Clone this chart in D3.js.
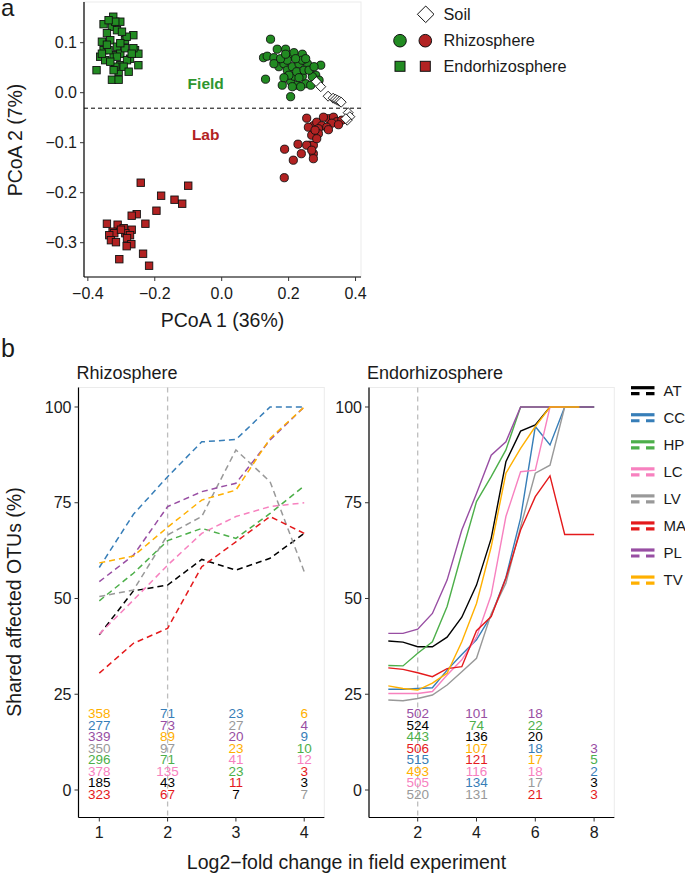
<!DOCTYPE html>
<html><head><meta charset="utf-8">
<script src="https://cdn.jsdelivr.net/npm/d3@7"></script>
<style>body{margin:0;background:#fff}svg{display:block;font-family:"Liberation Sans",Arial,sans-serif}</style>
</head><body><svg id="c" width="685" height="873"></svg>
<script>
// ---------- Panel a data (PCoA) ----------
const fieldEndo = [[-0.374,0.045],[-0.324,0.152],[-0.353,0.137],[-0.328,0.132],[-0.303,0.142],[-0.313,0.125],[-0.343,0.119],[-0.358,0.102],[-0.333,0.105],[-0.289,0.105],[-0.264,0.115],[-0.313,0.092],[-0.353,0.085],[-0.363,0.072],[-0.348,0.065],[-0.323,0.075],[-0.303,0.078],[-0.274,0.068],[-0.259,0.085],[-0.249,0.078],[-0.303,0.055],[-0.283,0.065],[-0.308,0.042],[-0.328,0.026],[-0.308,0.026],[-0.249,0.055],[-0.293,0.052],[-0.338,0.085],[-0.318,0.052],[-0.289,0.089],[-0.264,0.089],[-0.284,0.112],[-0.298,0.122],[-0.343,0.096],[-0.278,0.042],[-0.323,0.045],[-0.358,0.078],[-0.313,0.072],[-0.269,0.078],[-0.333,0.062],[-0.303,0.099],[-0.318,0.142],[-0.338,0.145]];
const labEndo = [[-0.242,-0.180],[-0.100,-0.186],[-0.181,-0.206],[-0.141,-0.214],[-0.118,-0.222],[-0.195,-0.236],[-0.254,-0.243],[-0.269,-0.246],[-0.228,-0.262],[-0.343,-0.262],[-0.311,-0.264],[-0.293,-0.271],[-0.269,-0.274],[-0.326,-0.278],[-0.321,-0.281],[-0.336,-0.285],[-0.288,-0.281],[-0.274,-0.285],[-0.331,-0.295],[-0.316,-0.299],[-0.283,-0.291],[-0.270,-0.303],[-0.284,-0.307],[-0.235,-0.322],[-0.306,-0.333],[-0.217,-0.346],[-0.301,-0.274]];
const fieldRhizo = [[0.146,0.107],[0.125,0.070],[0.136,0.073],[0.156,0.070],[0.166,0.087],[0.191,0.087],[0.206,0.073],[0.216,0.080],[0.241,0.077],[0.131,0.027],[0.171,0.052],[0.186,0.058],[0.196,0.045],[0.211,0.052],[0.231,0.058],[0.256,0.058],[0.296,0.055],[0.181,0.015],[0.206,0.023],[0.226,0.015],[0.251,0.018],[0.266,0.015],[0.281,0.035],[0.241,0.033],[0.216,0.033],[0.201,0.035],[0.224,0.042],[0.246,0.045],[0.271,0.032],[0.206,-0.008],[0.241,0.065],[0.221,0.068],[0.251,0.068],[0.196,0.065],[0.176,0.068],[0.231,0.030],[0.186,0.030],[0.261,0.045],[0.236,0.012],[0.191,0.077],[0.156,0.058],[0.276,0.052],[0.211,0.012],[0.291,0.025]];
const labRhizo = [[0.254,-0.051],[0.274,-0.066],[0.259,-0.069],[0.284,-0.059],[0.299,-0.066],[0.319,-0.052],[0.334,-0.049],[0.344,-0.058],[0.329,-0.061],[0.314,-0.069],[0.289,-0.072],[0.269,-0.085],[0.289,-0.082],[0.264,-0.105],[0.274,-0.122],[0.274,-0.105],[0.254,-0.105],[0.228,-0.103],[0.188,-0.113],[0.238,-0.122],[0.214,-0.135],[0.274,-0.132],[0.187,-0.170],[0.319,-0.074],[0.359,-0.055],[0.349,-0.064],[0.304,-0.049],[0.279,-0.075],[0.284,-0.092],[0.269,-0.115]];
const soil = [[0.283,0.022],[0.296,0.012],[0.318,-0.007],[0.333,-0.011],[0.340,-0.013],[0.346,-0.015],[0.352,-0.017],[0.357,-0.019],[0.378,-0.040],[0.383,-0.048],[0.375,-0.055],[0.371,-0.052]];
const pcoaXTicks = [-0.4,-0.2,0.0,0.2,0.4];
const pcoaYTicks = [0.1,0.0,-0.1,-0.2,-0.3];
const fieldLabLine = -0.031;

// ---------- Panel b data ----------
const genotypes = ["AT","CC","HP","LC","LV","MA","PL","TV"];
const genoColors = ["#000000","#377EB8","#4DAF4A","#F781BF","#999999","#E41A1C","#984EA3","#FFB000"];
const rhizoX = [1,1.5,2,2.5,3,3.5,4];
const rhizoAT = [40.5,52,53.5,60.2,57.4,60.5,67];
const rhizoCC = [58.1,72,81.8,90.9,91.5,100,100];
const rhizoHP = [49.4,56.6,65.1,68.3,65.7,72.2,79.4];
const rhizoLC = [40.7,49.6,58.7,67,71.4,74,75];
const rhizoLV = [50.5,52.2,66.6,71.4,88.8,80.5,57.0];
const rhizoMA = [30.5,38.3,42.2,58.3,64.8,71.4,67];
const rhizoPL = [54.4,61.3,74,77.9,80.1,91.4,100];
const rhizoTV = [59.3,61.1,68.6,75.7,78.3,91.8,100];
const endoX = [1,1.5,2,2.5,3,3.5,4,4.5,5,5.5,6,6.5,7,7.5,8];
const endoAT = [38.9,38.6,37.4,37.4,39.9,45.1,53.5,65.7,85.7,93.7,95.3,100,100,100,100];
const endoCC = [26.3,26.3,26.5,26.7,31.3,35.4,39.2,45.5,55.5,71,94.9,90.1,100,100,100];
const endoHP = [32.5,32.4,35.7,38.7,47.9,61.8,75.3,81.8,88.8,100,100,100,100,100,100];
const endoLC = [25.2,25.2,25.2,25.7,30.0,34.0,39.9,50.9,71.4,83.1,83.5,100,100,null,null];
const endoLV = [23.5,23.3,23.9,24.8,27.4,30.9,34.4,46,54,68.7,82.7,84.8,100,null,null];
const endoMA = [31.9,31.5,30.6,29.6,31.7,32.2,41.6,45.3,55.3,67.9,76.6,82.0,66.7,66.7,66.7];
const endoPL = [40.9,40.9,42.0,46.1,54.8,67.9,77.4,87.4,90.9,100,100,100,100,100,100];
const endoTV = [27.2,26.5,26.1,27.9,30.5,38.7,48.7,63.5,82.7,89.2,94.9,100,100,100,null];
const countRowY = [20,17,14,11,8,5,2,-1];
// each column: [x, [label, genotype], ...] listed top to bottom
const rhizoCounts = [
  [1,[["358","TV"],["277","CC"],["339","PL"],["350","LV"],["296","HP"],["378","LC"],["185","AT"],["323","MA"]]],
  [2,[["71","CC"],["73","PL"],["89","TV"],["97","LV"],["71","HP"],["135","LC"],["43","AT"],["67","MA"]]],
  [3,[["23","CC"],["27","LV"],["20","PL"],["23","TV"],["41","LC"],["23","HP"],["11","MA"],["7","AT"]]],
  [4,[["6","TV"],["4","PL"],["9","CC"],["10","HP"],["12","LC"],["3","MA"],["3","AT"],["7","LV"]]]
];
const endoCounts = [
  [2,[["502","PL"],["524","AT"],["443","HP"],["506","MA"],["515","CC"],["493","TV"],["505","LC"],["520","LV"]]],
  [4,[["101","PL"],["74","HP"],["136","AT"],["107","TV"],["121","MA"],["116","LC"],["134","CC"],["131","LV"]]],
  [6,[["18","PL"],["22","HP"],["20","AT"],["18","CC"],["17","TV"],["18","LC"],["17","LV"],["21","MA"]]],
  [8,[null,null,null,["3","PL"],["5","HP"],["2","CC"],["3","AT"],["3","MA"]]]
];
const yTicksB = [0,25,50,75,100];
const rhizoXTicks = [1,2,3,4];
const endoXTicks = [2,4,6,8];

const svg = d3.select("#c");
const green = "#228B22", red = "#B22222";
const col = g => genoColors[genotypes.indexOf(g)];

// ================= Panel a =================
const ax = d3.scaleLinear().domain([-0.4115,0.4163]).range([84,361]);
const ay = d3.scaleLinear().domain([-0.3686,0.1814]).range([277,2]);
svg.append("rect").attr("x",84).attr("y",2).attr("width",277).attr("height",275).attr("fill","none").attr("stroke","#EBEBEB");
const gA = svg.append("g");
gA.append("line").attr("x1",84).attr("x2",361).attr("y1",ay(fieldLabLine)).attr("y2",ay(fieldLabLine))
  .attr("stroke","#000").attr("stroke-width",1).attr("stroke-dasharray","4,3");
const sq = 7.4;
[[fieldEndo,green],[labEndo,red]].forEach(([d,c])=>{
  gA.selectAll(null).data(d).enter().append("rect")
    .attr("x",p=>ax(p[0])-sq/2).attr("y",p=>ay(p[1])-sq/2).attr("width",sq).attr("height",sq)
    .attr("fill",c).attr("stroke","#111").attr("stroke-width",0.9);
});
[[fieldRhizo,green],[labRhizo,red]].forEach(([d,c])=>{
  gA.selectAll(null).data(d).enter().append("circle")
    .attr("cx",p=>ax(p[0])).attr("cy",p=>ay(p[1])).attr("r",4.1)
    .attr("fill",c).attr("stroke","#111").attr("stroke-width",0.9);
});
const dm = 5;
gA.selectAll(null).data(soil).enter().append("path")
  .attr("d",p=>{const x=ax(p[0]),y=ay(p[1]);return `M${x},${y-dm}L${x+dm},${y}L${x},${y+dm}L${x-dm},${y}Z`;})
  .attr("fill","#fff").attr("stroke","#111").attr("stroke-width",0.9);
gA.append("text").attr("x",205.7).attr("y",84).attr("dy",".35em").attr("text-anchor","middle")
  .attr("font-size",15.5).attr("font-weight","bold").attr("fill","#2F962F").text("Field");
gA.append("text").attr("x",205.7).attr("y",135).attr("dy",".35em").attr("text-anchor","middle")
  .attr("font-size",15.5).attr("font-weight","bold").attr("fill",red).text("Lab");
// axes
const axA = svg.append("g");
axA.append("line").attr("x1",84).attr("x2",84).attr("y1",2).attr("y2",277).attr("stroke","#000").attr("stroke-width",1.2);
axA.append("line").attr("x1",84).attr("x2",361).attr("y1",277).attr("y2",277).attr("stroke","#000").attr("stroke-width",1.2);
pcoaXTicks.forEach(t=>{
  axA.append("line").attr("x1",ax(t)).attr("x2",ax(t)).attr("y1",277).attr("y2",281).attr("stroke","#333");
  axA.append("text").attr("x",ax(t)).attr("y",293.5).attr("dy",".35em").attr("text-anchor","middle")
    .attr("font-size",16).attr("fill","#1a1a1a").text(d3.format(".1f")(t).replace("-","\u2212"));
});
pcoaYTicks.forEach(t=>{
  axA.append("line").attr("x1",80).attr("x2",84).attr("y1",ay(t)).attr("y2",ay(t)).attr("stroke","#333");
  axA.append("text").attr("x",77).attr("y",ay(t)).attr("dy",".35em").attr("text-anchor","end")
    .attr("font-size",16).attr("fill","#1a1a1a").text(d3.format(".1f")(t).replace("-","\u2212"));
});
axA.append("text").attr("x",222.5).attr("y",320).attr("dy",".35em").attr("text-anchor","middle")
  .attr("font-size",19.5).attr("fill","#1a1a1a").text("PCoA 1 (36%)");
axA.append("text").attr("transform","translate(15,140) rotate(-90)").attr("dy",".35em").attr("text-anchor","middle")
  .attr("font-size",19.5).attr("fill","#1a1a1a").text("PCoA 2 (7%)");
// legend a
const lg = svg.append("g");
lg.append("path").attr("d",`M425.7,6L434,14.3L425.7,22.6L417.4,14.3Z`).attr("fill","#fff").attr("stroke","#111").attr("stroke-width",1);
lg.append("circle").attr("cx",400).attr("cy",40.7).attr("r",6.3).attr("fill",green).attr("stroke","#111").attr("stroke-width",1);
lg.append("circle").attr("cx",425.3).attr("cy",40.7).attr("r",6.3).attr("fill",red).attr("stroke","#111").attr("stroke-width",1);
lg.append("rect").attr("x",395).attr("y",61.3).attr("width",10).attr("height",10).attr("fill",green).attr("stroke","#111").attr("stroke-width",1);
lg.append("rect").attr("x",420.3).attr("y",61.3).attr("width",10).attr("height",10).attr("fill",red).attr("stroke","#111").attr("stroke-width",1);
[["Soil",14.3],["Rhizosphere",40.7],["Endorhizosphere",66.3]].forEach(([t,y])=>{
  lg.append("text").attr("x",443.5).attr("y",y).attr("dy",".35em").attr("font-size",16.3).attr("fill","#1a1a1a").text(t);
});
svg.append("text").attr("x",1).attr("y",16).attr("font-size",24).attr("fill","#1a1a1a").text("a");
svg.append("text").attr("x",1).attr("y",357).attr("font-size",25).attr("fill","#1a1a1a").text("b");

// ================= Panel b =================
const by = d3.scaleLinear().domain([-7.18,105.09]).range([817.5,387.5]);
const rx = d3.scaleLinear().domain([0.6955,4.294]).range([78.5,324.3]);
const ex = d3.scaleLinear().domain([0.3435,8.687]).range([369,614.3]);
const rhizoSeries = [rhizoAT,rhizoCC,rhizoHP,rhizoLC,rhizoLV,rhizoMA,rhizoPL,rhizoTV];
const endoSeries = [endoAT,endoCC,endoHP,endoLC,endoLV,endoMA,endoPL,endoTV];

function panel(xs, xvals, series, counts, xticks, title, dashed){
  const [x0,x1] = xs.range();
  const g = svg.append("g");
  g.append("rect").attr("x",x0).attr("y",387.5).attr("width",x1-x0).attr("height",430).attr("fill","none").attr("stroke","#EBEBEB");
  g.append("line").attr("x1",xs(2)).attr("x2",xs(2)).attr("y1",387.5).attr("y2",817.5)
    .attr("stroke","#BDBDBD").attr("stroke-width",1.3).attr("stroke-dasharray","5,4");
  const line = d3.line().defined(d=>d[1]!=null).x(d=>xs(d[0])).y(d=>by(d[1]));
  series.forEach((s,i)=>{
    g.append("path").attr("d",line(xvals.map((x,j)=>[x,s[j]]))).attr("fill","none")
      .attr("stroke",genoColors[i]).attr("stroke-width",dashed?1.5:1.4)
      .attr("stroke-dasharray",dashed?"6,4":null);
  });
  counts.forEach(([cx,rows])=>{
    rows.forEach((r,k)=>{
      if(!r) return;
      g.append("text").attr("x",xs(cx)).attr("y",by(countRowY[k])).attr("dy",".36em").attr("text-anchor","middle")
        .attr("font-size",13.5).attr("fill",col(r[1])).text(r[0]);
    });
  });
  g.append("line").attr("x1",x0).attr("x2",x0).attr("y1",387.5).attr("y2",817.5).attr("stroke","#000").attr("stroke-width",1.2);
  g.append("line").attr("x1",x0).attr("x2",x1).attr("y1",817.5).attr("y2",817.5).attr("stroke","#000").attr("stroke-width",1.2);
  yTicksB.forEach(t=>{
    g.append("line").attr("x1",x0-4).attr("x2",x0).attr("y1",by(t)).attr("y2",by(t)).attr("stroke","#333");
    g.append("text").attr("x",x0-7).attr("y",by(t)).attr("dy",".35em").attr("text-anchor","end")
      .attr("font-size",16).attr("fill","#1a1a1a").text(t);
  });
  xticks.forEach(t=>{
    g.append("line").attr("x1",xs(t)).attr("x2",xs(t)).attr("y1",817.5).attr("y2",821.5).attr("stroke","#333");
    g.append("text").attr("x",xs(t)).attr("y",832.5).attr("dy",".35em").attr("text-anchor","middle")
      .attr("font-size",16).attr("fill","#1a1a1a").text(t);
  });
  g.append("text").attr("x",x0-2).attr("y",373).attr("dy",".35em").attr("font-size",18).attr("fill","#1a1a1a").text(title);
}
panel(rx, rhizoX, rhizoSeries, rhizoCounts, rhizoXTicks, "Rhizosphere", true);
panel(ex, endoX, endoSeries, endoCounts, endoXTicks, "Endorhizosphere", false);

svg.append("text").attr("x",346.5).attr("y",861.7).attr("dy",".35em").attr("text-anchor","middle")
  .attr("font-size",19.5).attr("fill","#1a1a1a").text("Log2\u2212fold change in field experiment");
svg.append("text").attr("transform","translate(14,602) rotate(-90)").attr("dy",".35em").attr("text-anchor","middle")
  .attr("font-size",19.5).attr("fill","#1a1a1a").text("Shared affected OTUs (%)");

// legend b
const lb = svg.append("g");
genotypes.forEach((gname,i)=>{
  const y = 390.7 + 27.05*i;
  lb.append("line").attr("x1",631).attr("x2",654.5).attr("y1",y-3).attr("y2",y-3).attr("stroke",genoColors[i]).attr("stroke-width",3.2);
  lb.append("line").attr("x1",631).attr("x2",654.5).attr("y1",y+3).attr("y2",y+3).attr("stroke",genoColors[i]).attr("stroke-width",3.2).attr("stroke-dasharray","8.5,6.5");
  lb.append("text").attr("x",663.5).attr("y",y).attr("dy",".35em").attr("font-size",15).attr("fill","#1a1a1a").text(gname);
});
</script></body></html>
